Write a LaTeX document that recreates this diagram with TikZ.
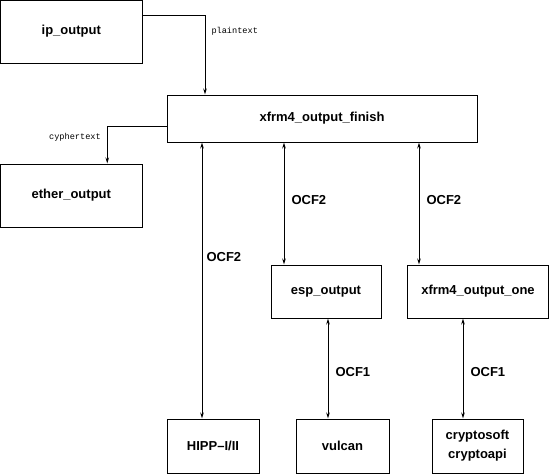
\documentclass[tikz,border=0pt]{standalone}
\usepackage{fontspec}
\setmainfont{Liberation Sans}
\newfontfamily\tagfont{Liberation Mono}
\usetikzlibrary{
	arrows.meta,positioning,calc
}
\tikzset{
	module/.style={
		rectangle, draw=black, line width=1pt, inner sep=0pt,
		font=\fontsize{13}{19}\selectfont\bfseries, align=center
	},
	%
	flow/.style={
		line width=1pt, -{Stealth[length=6pt,width=3.5pt]}
	},
	%
	ocf/.style={
		line width=1pt, {Stealth[length=6pt,width=3.5pt]}-{Stealth[length=6pt,width=3.5pt]}
	},
	%
	ocflabel/.style={
		inner sep=0pt, font=\fontsize{13}{15}\selectfont\bfseries
	},
	%
	tag/.style={
		inner sep=0pt, font=\tagfont\fontsize{8.6}{10}\selectfont
	}
}
\begin{document}
\begin{tikzpicture}[x=1pt,y=-1pt]
    \useasboundingbox (0,0) rectangle (550,474);
    \node(ip)[module, minimum width=141.5pt, minimum height=63pt] at (71.25,31.5){ip\_output};
    \node(finish)[module, minimum width=310pt, minimum height=47pt] at (322,118.5){xfrm4\_output\_finish};
    \node(ether)[module, minimum width=141.5pt, minimum height=63pt] at (71.25,195.5){ether\_output};
    \node(esp)[module, minimum width=110pt, minimum height=53pt] at (326,291.5){esp\_output};
    \node(one)[module, minimum width=141.5pt, minimum height=53pt] at (478,291.5){xfrm4\_output\_one};
    \node(hipp)[module, minimum width=92pt, minimum height=54pt] at (213,446){HIPP--I/II};
    \node(vulcan)[module, minimum width=93pt, minimum height=54pt] at (342.5,446){vulcan};
    \node(crypto)[module, minimum width=91pt, minimum height=54pt] at (477.5,446){cryptosoft\\cryptoapi};
    % plaintext in, cyphertext out
    \draw[flow] ([yshift=-15.5pt]ip.north east) -| node[tag, pos=0.6, right=6pt] {plaintext} ([xshift=-117pt]finish.north);
    \draw[flow] ([yshift=-7.5pt]finish.west) -| node[tag, pos=0.645, left=6pt] {cyphertext} ([xshift=36pt]ether.north);
    % OCF2 links
    \draw[ocf] ([xshift=-120pt]finish.south) -- node[ocflabel, pos=0.415, right=4pt] {OCF2} ([xshift=-11pt]hipp.north);
    \draw[ocf] ([xshift=-38pt]finish.south) -- node[ocflabel, pos=0.47, right=7pt] {OCF2} ([xshift=-42pt]esp.north);
    \draw[ocf] ([xshift=97pt]finish.south) -- node[ocflabel, pos=0.47, right=7pt] {OCF2} ([xshift=-59pt]one.north);
    % OCF1 links
    \draw[ocf] ([xshift=2pt]esp.south) -- node[ocflabel, pos=0.535, right=7pt] {OCF1} ([xshift=-14.5pt]vulcan.north);
    \draw[ocf] ([xshift=-15pt]one.south) -- node[ocflabel, pos=0.535, right=7pt] {OCF1} ([xshift=-14.5pt]crypto.north);
\end{tikzpicture}
\end{document}
